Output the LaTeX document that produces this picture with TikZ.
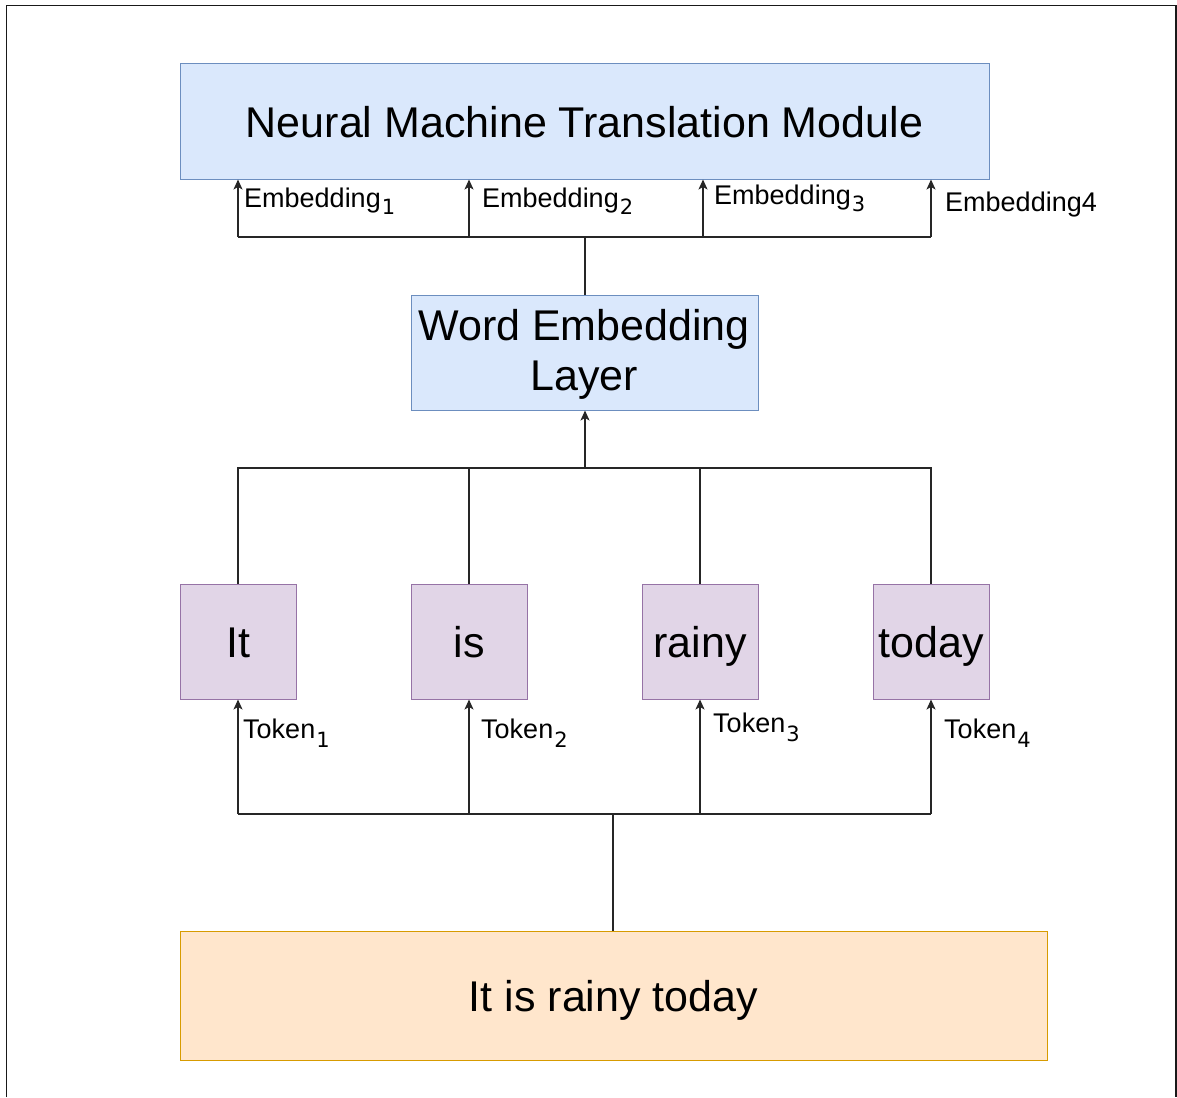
\documentclass[tikz,border=0pt]{standalone}
\usepackage{fontspec}
\setmainfont{Liberation Sans}
\newfontfamily\subfont{DejaVu Sans}
\usetikzlibrary{arrows.meta}
\newcommand{\lowidx}[2][8pt]{\hspace{1pt}\raisebox{-#1}{\subfont\fontsize{21}{23}\selectfont #2}}
\begin{document}
\begin{tikzpicture}[x=1pt,y=-1pt,
  bigtext/.style={font=\fontsize{43}{50}\selectfont, text height=31pt, text depth=0pt},
  boxbase/.style={line width=1pt, inner sep=0pt, bigtext},
  conn/.style={draw=black!85, line width=1.2pt},
  arr/.style={conn, -{Stealth[length=10pt,width=9pt,inset=2.5pt]}},
  lbl/.style={anchor=base west, inner sep=0pt, font=\fontsize{27}{30}\selectfont}
]
\useasboundingbox (0,0) rectangle (1177,1097);
\definecolor{nmtfill}{HTML}{DAE8FC}\definecolor{nmtdraw}{HTML}{6C8EBF}
\definecolor{pfill}{HTML}{E1D5E7}\definecolor{pdraw}{HTML}{9673A6}
\definecolor{ofill}{HTML}{FFE6CC}\definecolor{odraw}{HTML}{D79B00}
\tikzset{
  bluebox/.style={boxbase, fill=nmtfill, draw=nmtdraw},
  purpbox/.style={boxbase, fill=pfill, draw=pdraw, minimum width=116pt, minimum height=115pt},
  orbox/.style={boxbase, fill=ofill, draw=odraw}
}
% frame
\draw[line width=1.6pt, black!90] (6.5,1097) -- (6.5,5.5) -- (1176,5.5) -- (1176,1097);
% boxes
\node[bluebox, minimum width=809pt, minimum height=115pt] (nmt) at (584.5,121.5) {Neural Machine Translation Module};
\node[bluebox, minimum width=347pt, minimum height=115pt] (wel) at (584.5,352.5) {};
\node[anchor=base, inner sep=0pt, font=\fontsize{43}{50}\selectfont] (welt1) at (584,340) {Word Embedding};
\node[anchor=base, inner sep=0pt, font=\fontsize{43}{50}\selectfont] (welt2) at (584,390) {Layer};
\node[purpbox] (it) at (238,641.5) {It};
\node[purpbox] (is) at (469,641.5) {is};
\node[purpbox] (rainy) at (700,641.5) {rainy};
\node[purpbox] (today) at (931,641.5) {today};
\node[orbox, minimum width=867pt, minimum height=129pt] (sent) at (613.5,995.5) {It is rainy today};
% top bus
\coordinate (tb) at (585,237);
\coordinate (e1) at (238,237);
\coordinate (e2) at (469,237);
\coordinate (e3) at (703,237);
\coordinate (e4) at (931,237);
\draw[conn] (wel.north -| tb) -- (tb);
\draw[conn] (e1) -- (e4);
\draw[arr] (e1) -- (e1 |- nmt.south);
\draw[arr] (e2) -- (e2 |- nmt.south);
\draw[arr] (e3) -- (e3 |- nmt.south);
\draw[arr] (e4) -- (e4 |- nmt.south);
% middle bus
\coordinate (mb) at (585,468);
\draw[conn] (it.north) -- (it.north |- mb) -- (today.north |- mb) -- (today.north);
\draw[conn] (is.north) -- (is.north |- mb);
\draw[conn] (rainy.north) -- (rainy.north |- mb);
\draw[arr] (mb) -- (mb |- wel.south);
% bottom bus
\coordinate (bb) at (613,814);
\draw[conn] (sent.north -| bb) -- (bb);
\draw[conn] (it.south |- bb) -- (today.south |- bb);
\draw[arr] (it.south |- bb) -- (it.south);
\draw[arr] (is.south |- bb) -- (is.south);
\draw[arr] (rainy.south |- bb) -- (rainy.south);
\draw[arr] (today.south |- bb) -- (today.south);
% labels
\node[lbl] (le1) at (244,207) {Embedding\lowidx[7pt]{1}};
\node[lbl] (le2) at (482,207) {Embedding\lowidx[7pt]{2}};
\node[lbl] (le3) at (714,204) {Embedding\lowidx[7pt]{3}};
\node[lbl] (le4) at (945,211) {Embedding4};
\node[lbl] (lt1) at (243,738) {Token\lowidx[9pt]{1}};
\node[lbl] (lt2) at (481,738) {Token\lowidx[9pt]{2}};
\node[lbl] (lt3) at (713,732) {Token\lowidx[9pt]{3}};
\node[lbl] (lt4) at (944,738) {Token\lowidx[9pt]{4}};
\end{tikzpicture}
\end{document}
